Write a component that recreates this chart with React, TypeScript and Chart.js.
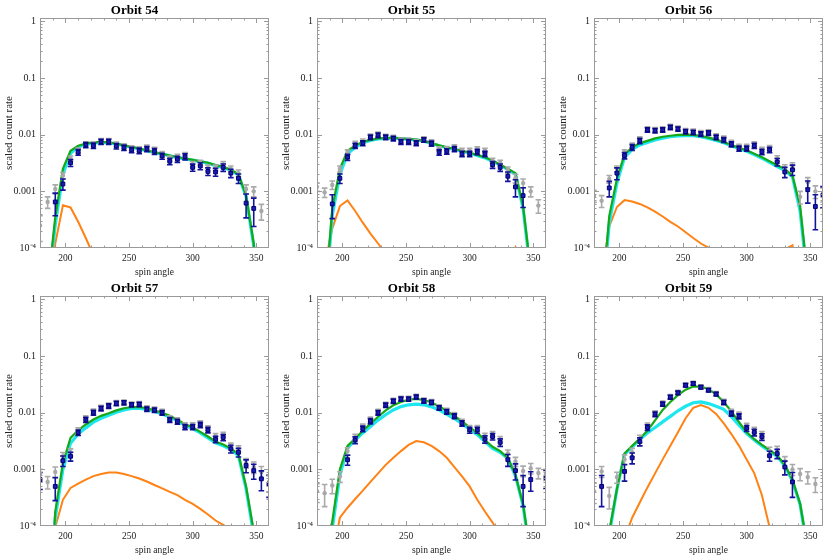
import React, { useEffect, useRef } from "react";
import { Chart, registerables } from "chart.js";

Chart.register(...registerables);

// ---------- shared axes ----------
const spinAngles = [180, 186, 192, 198, 204, 210, 216, 222, 228, 234, 240, 246, 252, 258, 264, 270, 276, 282, 288, 294, 300, 306, 312, 318, 324, 330, 336, 342, 348, 354, 360];
const xTickValues = [200, 250, 300, 350];
const xMinorTicks = [190, 210, 220, 230, 240, 260, 270, 280, 290, 310, 320, 330, 340];
const yTickValues = [1e-4, 1e-3, 1e-2, 0.1, 1];
const yTickLabels = ["10\u207B\u2074", "0.001", "0.01", "0.1", "1"];
const orbitTitles = ["Orbit 54", "Orbit 55", "Orbit 56", "Orbit 57", "Orbit 58", "Orbit 59"];

// ---------- Orbit 54 ----------
const blue54 = [null, null, 6.5e-4, 1.35e-3, 3.2e-3, 4.9e-3, 6.6e-3, 6.4e-3, 7.5e-3, 7.5e-3, 6.3e-3, 5.9e-3, 5.4e-3, 5.2e-3, 5.6e-3, 5.1e-3, 4.2e-3, 3.4e-3, 3.7e-3, 4.1e-3, 2.65e-3, 2.8e-3, 2.25e-3, 2.2e-3, 2.65e-3, 2.1e-3, 1.7e-3, 6.2e-4, 5.0e-4, null, null];
const blueErr54 = [null, null, 2.8e-4, 3e-4, 4.5e-4, 5.5e-4, 7e-4, 7e-4, 8e-4, 8e-4, 7e-4, 6.5e-4, 6e-4, 6e-4, 6e-4, 6e-4, 5e-4, 4.5e-4, 4.5e-4, 5e-4, 3.8e-4, 4e-4, 3.5e-4, 3.5e-4, 4e-4, 3.5e-4, 3.2e-4, 2.8e-4, 2.6e-4, null, null];
const gray54 = [2.5e-4, 6.5e-4, 1.1e-3, 1.9e-3, 3.8e-3, 5.3e-3, 6.9e-3, 6.9e-3, 7.9e-3, 7.9e-3, 6.8e-3, 6.3e-3, 5.8e-3, 5.6e-3, 6.0e-3, 5.5e-3, 4.6e-3, 3.8e-3, 4.1e-3, 4.4e-3, 3.0e-3, 3.2e-3, 2.6e-3, 2.6e-3, 3.0e-3, 2.5e-3, 2.1e-3, 1.1e-3, 1.0e-3, 4.5e-4, null];
const grayErr54 = [1.2e-4, 1.5e-4, 2e-4, 2.5e-4, 4e-4, 5e-4, 6e-4, 6e-4, 7e-4, 7e-4, 6e-4, 6e-4, 5.5e-4, 5.5e-4, 5.5e-4, 5e-4, 4.5e-4, 4e-4, 4e-4, 4.5e-4, 3.5e-4, 3.5e-4, 3e-4, 3e-4, 3.5e-4, 3e-4, 2.8e-4, 2e-4, 2e-4, 1.4e-4, null];
const green54 = [1e-7, 2e-5, 3.5e-4, 2.5e-3, 5.2e-3, 6.4e-3, 7.0e-3, 7.3e-3, 7.5e-3, 7.3e-3, 7.0e-3, 6.5e-3, 6.1e-3, 5.7e-3, 5.3e-3, 4.9e-3, 4.6e-3, 4.3e-3, 4.0e-3, 3.8e-3, 3.6e-3, 3.4e-3, 3.2e-3, 2.9e-3, 2.7e-3, 2.4e-3, 2.0e-3, 8.5e-4, 1.2e-4, 1e-6, 1e-7];
const cyan54 = [1e-7, 1.5e-5, 2.6e-4, 2.0e-3, 4.7e-3, 6.1e-3, 6.8e-3, 7.1e-3, 7.3e-3, 7.2e-3, 6.9e-3, 6.4e-3, 6.0e-3, 5.6e-3, 5.2e-3, 4.85e-3, 4.55e-3, 4.25e-3, 3.95e-3, 3.75e-3, 3.55e-3, 3.35e-3, 3.15e-3, 2.85e-3, 2.65e-3, 2.35e-3, 1.95e-3, 8e-4, 1.1e-4, 1e-6, 1e-7];
const orange54 = [1e-7, 1e-6, 1.2e-4, 5.7e-4, 5.2e-4, 2.9e-4, 1.5e-4, 7.4e-5, 3.5e-5, 2e-5, 1.2e-5, 8e-6, 6e-6, 5e-6, 4e-6, 3e-6, 3e-6, 3e-6, 3e-6, 3e-6, 3e-6, 3e-6, 4e-6, 5e-6, 6e-6, 8e-6, 1e-5, 2e-6, 1e-7, 1e-7, 1e-7];

// ---------- Orbit 55 ----------
const blue55 = [null, null, 6e-4, 1.7e-3, 4.0e-3, 6.4e-3, 7.1e-3, 9.0e-3, 9.8e-3, 9.0e-3, 8.6e-3, 7.5e-3, 7.5e-3, 7.1e-3, 8.1e-3, 7.0e-3, 4.9e-3, 5.1e-3, 5.6e-3, 4.6e-3, 4.6e-3, 5.0e-3, 4.6e-3, 2.95e-3, 2.65e-3, 1.85e-3, 1.2e-3, 8.4e-4, null, null, null];
const blueErr55 = [null, null, 2.7e-4, 3.2e-4, 5e-4, 6.5e-4, 7e-4, 8.5e-4, 9e-4, 8.5e-4, 8e-4, 7.5e-4, 7.5e-4, 7e-4, 7.5e-4, 7e-4, 5.5e-4, 5.5e-4, 6e-4, 5e-4, 5e-4, 5.5e-4, 5e-4, 4e-4, 4e-4, 3.5e-4, 4e-4, 3.2e-4, null, null, null];
const gray55 = [1.2e-3, 9.6e-4, 1.3e-3, 2.5e-3, 4.9e-3, 7.0e-3, 7.7e-3, 9.5e-3, 1.03e-2, 9.4e-3, 9.0e-3, 8.0e-3, 8.0e-3, 7.6e-3, 8.5e-3, 7.5e-3, 5.6e-3, 5.7e-3, 6.1e-3, 5.3e-3, 5.3e-3, 5.6e-3, 5.3e-3, 3.5e-3, 3.2e-3, 2.4e-3, 1.7e-3, 1.4e-3, 1.0e-3, 5.6e-4, null];
const grayErr55 = [2e-4, 1.8e-4, 2.2e-4, 3e-4, 5e-4, 6.5e-4, 7e-4, 8e-4, 8.5e-4, 8e-4, 7.5e-4, 7e-4, 7e-4, 6.5e-4, 7e-4, 6.5e-4, 5e-4, 5e-4, 5.5e-4, 4.5e-4, 4.5e-4, 5e-4, 4.5e-4, 3.5e-4, 3.5e-4, 3e-4, 3e-4, 2.5e-4, 2e-4, 1.5e-4, null];
const green55 = [1e-7, 1e-5, 5e-4, 2.5e-3, 5.2e-3, 6.4e-3, 7.5e-3, 8.1e-3, 8.6e-3, 8.7e-3, 8.8e-3, 8.6e-3, 8.4e-3, 8.2e-3, 7.8e-3, 7.1e-3, 6.5e-3, 6.0e-3, 5.6e-3, 5.2e-3, 4.8e-3, 4.4e-3, 4.0e-3, 3.5e-3, 2.95e-3, 2.5e-3, 2.1e-3, 5.5e-4, 4e-5, 1e-7, 1e-7];
const cyan55 = [1e-7, 8e-6, 3.8e-4, 2.0e-3, 4.6e-3, 6.0e-3, 7.2e-3, 7.9e-3, 8.4e-3, 8.6e-3, 8.7e-3, 8.5e-3, 8.3e-3, 8.1e-3, 7.7e-3, 7.0e-3, 6.4e-3, 5.9e-3, 5.5e-3, 5.1e-3, 4.7e-3, 4.3e-3, 3.9e-3, 3.4e-3, 2.9e-3, 2.45e-3, 2.0e-3, 5e-4, 3.5e-5, 1e-7, 1e-7];
const orange55 = [1e-7, 5e-5, 2.2e-4, 5.5e-4, 6.9e-4, 4.5e-4, 2.8e-4, 1.8e-4, 1.2e-4, 8e-5, 5.5e-5, 3.5e-5, 2.5e-5, 2e-5, 1.5e-5, 1.2e-5, 1e-5, 1e-5, 1e-5, 1e-5, 1.2e-5, 1.5e-5, 2e-5, 2.8e-5, 4e-5, 6e-5, 1.03e-4, 3e-5, 1e-6, 1e-7, 1e-7];

// ---------- Orbit 56 ----------
const blue56 = [null, null, 1.15e-3, 2.1e-3, 4.3e-3, 6.0e-3, 7.8e-3, 1.22e-2, 1.18e-2, 1.22e-2, 1.35e-2, 1.26e-2, 1.13e-2, 1.1e-2, 1.03e-2, 1.07e-2, 9.0e-3, 8.1e-3, 6.8e-3, 5.7e-3, 5.7e-3, 6.4e-3, 5.0e-3, 5.4e-3, 3.3e-3, 2.2e-3, 2.4e-3, null, 1.07e-3, 5.4e-4, 8.6e-4];
const blueErr56 = [null, null, 3.5e-4, 5e-4, 5.5e-4, 7e-4, 8.5e-4, 1.1e-3, 1.1e-3, 1.1e-3, 1.2e-3, 1.1e-3, 1e-3, 1e-3, 9.5e-4, 1e-3, 8.5e-4, 8e-4, 7e-4, 6e-4, 6e-4, 6.5e-4, 5.5e-4, 6e-4, 5e-4, 4.5e-4, 5e-4, null, 4.5e-4, 3.3e-4, 3.5e-4];
const gray56 = [8.4e-4, 6.8e-4, 1.65e-3, 2.5e-3, 4.9e-3, 6.5e-3, 8.4e-3, 1.28e-2, 1.24e-2, 1.28e-2, 1.42e-2, 1.32e-2, 1.19e-2, 1.16e-2, 1.09e-2, 1.13e-2, 9.6e-3, 8.7e-3, 7.3e-3, 6.2e-3, 6.2e-3, 6.9e-3, 5.5e-3, 5.9e-3, 3.8e-3, 2.6e-3, 2.8e-3, 8e-4, 1.45e-3, 1.0e-3, 9e-4];
const grayErr56 = [2e-4, 1.6e-4, 2.5e-4, 3e-4, 5e-4, 6.5e-4, 8e-4, 1e-3, 1e-3, 1e-3, 1.1e-3, 1e-3, 9.5e-4, 9.5e-4, 9e-4, 9.5e-4, 8e-4, 7.5e-4, 6.5e-4, 5.5e-4, 5.5e-4, 6e-4, 5e-4, 5.5e-4, 4.5e-4, 3.5e-4, 4e-4, 2e-4, 3e-4, 2.5e-4, 2.5e-4];
const green56 = [1e-7, 1e-5, 3.7e-4, 1.65e-3, 4.5e-3, 6.0e-3, 7.1e-3, 7.8e-3, 8.6e-3, 9.2e-3, 9.6e-3, 9.9e-3, 1.0e-2, 9.9e-3, 9.5e-3, 8.9e-3, 8.2e-3, 7.4e-3, 6.6e-3, 5.9e-3, 5.3e-3, 4.6e-3, 4.0e-3, 3.4e-3, 2.9e-3, 2.5e-3, 1.9e-3, 5.5e-4, 3e-5, 1e-7, 1e-7];
const cyan56 = [1e-7, 8e-6, 2.8e-4, 1.4e-3, 4.0e-3, 5.5e-3, 6.6e-3, 7.3e-3, 8.1e-3, 8.7e-3, 9.2e-3, 9.5e-3, 9.6e-3, 9.6e-3, 9.2e-3, 8.6e-3, 7.9e-3, 7.2e-3, 6.4e-3, 5.7e-3, 5.1e-3, 4.45e-3, 3.85e-3, 3.25e-3, 2.75e-3, 2.35e-3, 1.8e-3, 4.5e-4, 2.5e-5, 1e-7, 1e-7];
const orange56 = [1e-7, 3e-5, 2.4e-4, 5.3e-4, 7.0e-4, 6.6e-4, 6.0e-4, 5.2e-4, 4.4e-4, 3.6e-4, 2.9e-4, 2.4e-4, 1.9e-4, 1.5e-4, 1.2e-4, 1.02e-4, 8.5e-5, 7.5e-5, 6.5e-5, 6e-5, 6e-5, 6.5e-5, 7e-5, 7.5e-5, 8.5e-5, 9.5e-5, 1.12e-4, 1e-5, 1e-7, 1e-7, 1e-7];

// ---------- Orbit 57 ----------
const blue57 = [6.6e-4, null, 5.0e-4, 1.42e-3, 1.7e-3, 4.45e-3, 7.5e-3, 1.0e-2, 1.19e-2, 1.31e-2, 1.46e-2, 1.5e-2, 1.38e-2, 1.4e-2, 1.16e-2, 1.11e-2, 1.0e-2, 7.5e-3, 6.95e-3, 5.6e-3, 5.6e-3, 6.1e-3, 4.95e-3, 3.4e-3, 3.65e-3, 2.3e-3, 2.0e-3, 1.17e-3, 9.5e-4, 6.8e-4, 5.5e-4];
const blueErr57 = [2.2e-4, null, 2.2e-4, 3e-4, 3e-4, 5e-4, 8e-4, 1e-3, 1.1e-3, 1.2e-3, 1.3e-3, 1.3e-3, 1.2e-3, 1.2e-3, 1.05e-3, 1e-3, 9.5e-4, 7.5e-4, 7e-4, 6e-4, 6e-4, 6.5e-4, 5.5e-4, 4.5e-4, 4.5e-4, 3.5e-4, 3.5e-4, 3e-4, 2.8e-4, 2.6e-4, 2.3e-4];
const gray57 = [8e-4, 6.0e-4, 9.0e-4, 1.7e-3, 2.0e-3, 4.9e-3, 8.1e-3, 1.06e-2, 1.25e-2, 1.37e-2, 1.52e-2, 1.56e-2, 1.44e-2, 1.46e-2, 1.22e-2, 1.17e-2, 1.06e-2, 8.1e-3, 7.5e-3, 6.1e-3, 6.1e-3, 6.6e-3, 5.4e-3, 3.9e-3, 4.1e-3, 2.6e-3, 2.3e-3, 1.3e-3, 1.1e-3, 9e-4, 6e-4];
const grayErr57 = [2e-4, 1.5e-4, 2e-4, 2.8e-4, 3e-4, 5e-4, 7.5e-4, 9.5e-4, 1.05e-3, 1.1e-3, 1.2e-3, 1.2e-3, 1.1e-3, 1.1e-3, 1e-3, 9.5e-4, 9e-4, 7e-4, 6.5e-4, 5.5e-4, 5.5e-4, 6e-4, 5e-4, 4e-4, 4e-4, 3e-4, 3e-4, 2.5e-4, 2.5e-4, 2.2e-4, 2e-4];
const green57 = [1e-7, 1e-6, 1.8e-4, 1.3e-3, 3.6e-3, 4.9e-3, 6.2e-3, 7.6e-3, 8.8e-3, 9.8e-3, 1.1e-2, 1.2e-2, 1.26e-2, 1.26e-2, 1.2e-2, 1.1e-2, 1.0e-2, 8.8e-3, 7.5e-3, 6.3e-3, 5.5e-3, 4.6e-3, 3.8e-3, 3.1e-3, 2.75e-3, 2.35e-3, 1.85e-3, 5e-4, 8e-5, 1e-7, 1e-7];
const cyan57 = [1e-7, 1e-6, 1.4e-4, 1.0e-3, 2.9e-3, 4.2e-3, 5.4e-3, 6.8e-3, 8.0e-3, 9.0e-3, 1.02e-2, 1.12e-2, 1.19e-2, 1.2e-2, 1.14e-2, 1.05e-2, 9.5e-3, 8.4e-3, 7.2e-3, 6.0e-3, 5.25e-3, 4.4e-3, 3.6e-3, 2.95e-3, 2.6e-3, 2.25e-3, 1.75e-3, 4.5e-4, 7e-5, 1e-7, 1e-7];
const orange57 = [1e-7, 1e-6, 9.5e-5, 2.9e-4, 4.7e-4, 5.6e-4, 6.6e-4, 7.6e-4, 8.3e-4, 8.8e-4, 8.8e-4, 8.3e-4, 7.6e-4, 6.9e-4, 6.1e-4, 5.3e-4, 4.6e-4, 4.0e-4, 3.5e-4, 2.9e-4, 2.45e-4, 2.0e-4, 1.6e-4, 1.25e-4, 1.05e-4, 8.5e-5, 6e-5, 1e-5, 1e-7, 1e-7, 1e-7];

// ---------- Orbit 58 ----------
const blue58 = [null, null, null, null, 1.48e-3, 3.3e-3, 5.2e-3, 7.1e-3, 1.0e-2, 1.36e-2, 1.6e-2, 1.74e-2, 1.74e-2, 1.9e-2, 1.62e-2, 1.52e-2, 1.22e-2, 1.04e-2, 8.7e-3, 6.5e-3, 4.95e-3, 4.95e-3, 3.4e-3, 3.8e-3, 3.0e-3, 1.48e-3, 9.5e-4, 5.0e-4, 6.6e-4, null, 7.1e-4];
const blueErr58 = [null, null, null, null, 3e-4, 4.5e-4, 6e-4, 7.5e-4, 9.5e-4, 1.2e-3, 1.4e-3, 1.5e-3, 1.5e-3, 1.6e-3, 1.4e-3, 1.35e-3, 1.1e-3, 1e-3, 8.5e-4, 7e-4, 6e-4, 6e-4, 5e-4, 5e-4, 4.5e-4, 3.5e-4, 3e-4, 2.8e-4, 2.5e-4, null, 2.5e-4];
const gray58 = [4.1e-4, 3.8e-4, 5.2e-4, 7.5e-4, 2.1e-3, 3.7e-3, 5.7e-3, 7.7e-3, 1.06e-2, 1.42e-2, 1.66e-2, 1.8e-2, 1.8e-2, 1.96e-2, 1.68e-2, 1.58e-2, 1.28e-2, 1.1e-2, 9.3e-3, 7.0e-3, 5.4e-3, 5.4e-3, 3.9e-3, 4.2e-3, 3.4e-3, 1.9e-3, 1.38e-3, 9.4e-4, 1.05e-3, 8.6e-4, 8.2e-4];
const grayErr58 = [1.5e-4, 1.6e-4, 1.5e-4, 1.6e-4, 3e-4, 4.5e-4, 6e-4, 7e-4, 9e-4, 1.1e-3, 1.3e-3, 1.4e-3, 1.4e-3, 1.5e-3, 1.3e-3, 1.3e-3, 1.05e-3, 9.5e-4, 8e-4, 6.5e-4, 5.5e-4, 5.5e-4, 4.5e-4, 4.5e-4, 4e-4, 3e-4, 2.5e-4, 2e-4, 2.2e-4, 1.8e-4, 1.8e-4];
const green58 = [1e-7, 1e-6, 1.2e-4, 1.0e-3, 2.6e-3, 3.5e-3, 4.8e-3, 6.4e-3, 8.5e-3, 1.1e-2, 1.35e-2, 1.55e-2, 1.7e-2, 1.75e-2, 1.68e-2, 1.52e-2, 1.3e-2, 1.08e-2, 8.8e-3, 7.0e-3, 5.5e-3, 4.4e-3, 3.3e-3, 2.5e-3, 2.1e-3, 1.6e-3, 8e-4, 2.4e-4, 3e-5, 1e-7, 1e-7];
const cyan58 = [1e-7, 1e-6, 9e-5, 8e-4, 2.4e-3, 3.3e-3, 4.4e-3, 5.7e-3, 7.4e-3, 9.2e-3, 1.12e-2, 1.28e-2, 1.38e-2, 1.42e-2, 1.38e-2, 1.27e-2, 1.12e-2, 9.4e-3, 7.9e-3, 6.4e-3, 5.1e-3, 4.1e-3, 3.1e-3, 2.35e-3, 2.0e-3, 1.55e-3, 7.7e-4, 2.3e-4, 2.5e-5, 1e-7, 1e-7];
const orange58 = [1e-7, 1e-7, 3e-5, 1.4e-4, 2.1e-4, 3.0e-4, 4.2e-4, 6.0e-4, 8.5e-4, 1.2e-3, 1.6e-3, 2.1e-3, 2.7e-3, 3.15e-3, 3.0e-3, 2.6e-3, 2.1e-3, 1.6e-3, 1.1e-3, 7.5e-4, 5.0e-4, 2.9e-4, 1.8e-4, 1.15e-4, 7e-5, 4e-5, 2e-5, 1e-5, 1e-7, 1e-7, 1e-7];

// ---------- Orbit 59 ----------
const blue59 = [null, 5e-4, null, null, 9.2e-4, 1.6e-3, 3.1e-3, 5.5e-3, 9.4e-3, 1.42e-2, 1.88e-2, 2.24e-2, 3.05e-2, 3.27e-2, 2.82e-2, 2.5e-2, 2.13e-2, 1.52e-2, 9.7e-3, 8.7e-3, 5.3e-3, 4.5e-3, 3.75e-3, 1.74e-3, 1.9e-3, 1.1e-3, 6.0e-4, null, null, null, null];
const blueErr59 = [null, 2.8e-4, null, null, 3e-4, 3.5e-4, 5e-4, 6.5e-4, 9e-4, 1.2e-3, 1.5e-3, 1.7e-3, 2.1e-3, 2.2e-3, 2e-3, 1.8e-3, 1.6e-3, 1.3e-3, 1e-3, 9e-4, 6.5e-4, 6e-4, 5e-4, 3.5e-4, 3.5e-4, 3e-4, 2.8e-4, null, null, null, null];
const gray59 = [4.1e-4, 9.2e-4, 3.4e-4, 7.3e-4, 1.5e-3, 2.0e-3, 3.5e-3, 6.0e-3, 1.0e-2, 1.5e-2, 1.95e-2, 2.32e-2, 3.15e-2, 3.37e-2, 2.92e-2, 2.6e-2, 2.22e-2, 1.6e-2, 1.05e-2, 9.4e-3, 5.9e-3, 5.0e-3, 4.2e-3, 2.1e-3, 2.2e-3, 1.4e-3, 1.0e-3, 8.3e-4, 7.3e-4, 5.5e-4, null];
const grayErr59 = [1.6e-4, 2e-4, 1.4e-4, 1.6e-4, 3e-4, 3.5e-4, 5e-4, 6e-4, 8.5e-4, 1.1e-3, 1.4e-3, 1.6e-3, 2e-3, 2.1e-3, 1.9e-3, 1.7e-3, 1.5e-3, 1.2e-3, 9.5e-4, 8.5e-4, 6e-4, 5.5e-4, 4.5e-4, 3.5e-4, 3.5e-4, 2.8e-4, 2.2e-4, 2e-4, 1.8e-4, 1.6e-4, null];
const green59 = [1e-7, 1e-7, 8e-5, 4.5e-4, 1.9e-3, 2.6e-3, 3.5e-3, 4.8e-3, 7.3e-3, 1.12e-2, 1.55e-2, 2.05e-2, 2.55e-2, 2.9e-2, 2.9e-2, 2.6e-2, 2.1e-2, 1.55e-2, 1.05e-2, 6.8e-3, 4.5e-3, 3.4e-3, 2.7e-3, 2.2e-3, 1.75e-3, 1.2e-3, 6.5e-4, 2.5e-4, 4e-5, 1e-7, 1e-7];
const cyan59 = [1e-7, 1e-7, 7e-5, 4.4e-4, 1.85e-3, 2.5e-3, 3.35e-3, 4.4e-3, 5.5e-3, 6.9e-3, 8.6e-3, 1.08e-2, 1.3e-2, 1.5e-2, 1.55e-2, 1.45e-2, 1.3e-2, 1.15e-2, 8.5e-3, 6.0e-3, 4.3e-3, 3.3e-3, 2.6e-3, 2.1e-3, 1.7e-3, 1.15e-3, 6.3e-4, 2.4e-4, 3.5e-5, 1e-7, 1e-7];
const orange59 = [1e-7, 1e-7, 1e-7, 1e-6, 6e-5, 1.4e-4, 2.6e-4, 4.8e-4, 8.5e-4, 1.5e-3, 2.6e-3, 4.5e-3, 8e-3, 1.22e-2, 1.36e-2, 1.22e-2, 9.5e-3, 6.5e-3, 4.2e-3, 2.6e-3, 1.5e-3, 8.5e-4, 3.5e-4, 9.5e-5, 2e-5, 1e-6, 1e-7, 1e-7, 1e-7, 1e-7, 1e-7];

// ---------- panel table built from the arrays ----------
const panelSeries = [
  [blue54, blueErr54, gray54, grayErr54, green54, cyan54, orange54],
  [blue55, blueErr55, gray55, grayErr55, green55, cyan55, orange55],
  [blue56, blueErr56, gray56, grayErr56, green56, cyan56, orange56],
  [blue57, blueErr57, gray57, grayErr57, green57, cyan57, orange57],
  [blue58, blueErr58, gray58, grayErr58, green58, cyan58, orange58],
  [blue59, blueErr59, gray59, grayErr59, green59, cyan59, orange59],
];

const PANEL_W = 277;
const PANEL_H = 278;
const Y_AXIS_W = 40;
const X_AXIS_H = 30;
const FRAME = "#9a9a9a";
const SERIF = "'Liberation Serif', 'Times New Roman', serif";

const errorBarPlugin = {
  id: "errorBars",
  beforeDatasetDraw(chart: any, args: any) {
    const ds = chart.data.datasets[args.index];
    if (!ds.errors) return;
    const xs = chart.scales.x;
    const ys = chart.scales.y;
    const a = chart.chartArea;
    const ctx = chart.ctx;
    ctx.save();
    ctx.beginPath();
    ctx.rect(a.left, a.top, a.right - a.left, a.bottom - a.top);
    ctx.clip();
    ctx.strokeStyle = ds.errorColor;
    ctx.lineWidth = 1.6;
    ds.data.forEach((pt: any, i: number) => {
      const e = ds.errors[i];
      if (pt.y == null || e == null) return;
      const px = xs.getPixelForValue(pt.x);
      const yHi = ys.getPixelForValue(pt.y + e);
      const lo = pt.y - e;
      const yLo = lo > 0 ? ys.getPixelForValue(lo) : a.bottom + 20;
      ctx.beginPath();
      ctx.moveTo(px, yHi);
      ctx.lineTo(px, yLo);
      ctx.moveTo(px - 2.8, yHi);
      ctx.lineTo(px + 2.8, yHi);
      ctx.moveTo(px - 2.8, yLo);
      ctx.lineTo(px + 2.8, yLo);
      ctx.stroke();
    });
    ctx.restore();
  },
};

const framePlugin = {
  id: "frameTicks",
  afterDraw(chart: any) {
    const xs = chart.scales.x;
    const ys = chart.scales.y;
    const a = chart.chartArea;
    const ctx = chart.ctx;
    ctx.save();
    ctx.strokeStyle = FRAME;
    ctx.lineWidth = 1;
    ctx.strokeRect(Math.round(a.left) + 0.5, Math.round(a.top) + 0.5, Math.round(a.right - a.left) - 1, Math.round(a.bottom - a.top) - 1);
    ctx.beginPath();
    const xt = (v: number, len: number) => {
      const p = Math.round(xs.getPixelForValue(v)) + 0.5;
      ctx.moveTo(p, a.bottom);
      ctx.lineTo(p, a.bottom - len);
      ctx.moveTo(p, a.top);
      ctx.lineTo(p, a.top + len);
    };
    xTickValues.forEach((v) => xt(v, 5));
    xMinorTicks.forEach((v) => xt(v, 2.5));
    const yt = (v: number, len: number) => {
      const p = Math.round(ys.getPixelForValue(v)) + 0.5;
      if (p < a.top || p > a.bottom) return;
      ctx.moveTo(a.left, p);
      ctx.lineTo(a.left + len, p);
      ctx.moveTo(a.right, p);
      ctx.lineTo(a.right - len, p);
    };
    yTickValues.forEach((v) => {
      yt(v, 5);
      for (let m = 2; m <= 9; m++) yt(v * m, 2.5);
    });
    ctx.stroke();
    ctx.restore();
  },
};

function buildConfig(idx: number): any {
  const [blue, blueErr, gray, grayErr, green, cyan, orange] = panelSeries[idx] as any[];
  const pts = (arr: any[]) => spinAngles.map((x, i) => ({ x, y: arr[i] }));
  return {
    type: "line",
    data: {
      datasets: [
        {
          label: "data",
          data: pts(blue),
          errors: blueErr,
          errorColor: "#13139c",
          showLine: false,
          pointStyle: "rect",
          pointRadius: 2.7,
          pointBackgroundColor: "#1a1ab8",
          pointBorderColor: "#000070",
          pointBorderWidth: 1,
          clip: 0,
        },
        {
          label: "raw",
          data: pts(gray),
          errors: grayErr,
          errorColor: "#aaaaaa",
          showLine: false,
          pointStyle: "circle",
          pointRadius: 2.2,
          pointBackgroundColor: "#a8a8a8",
          pointBorderColor: "#a8a8a8",
          pointBorderWidth: 0,
          clip: 0,
        },
        { label: "total", data: pts(green), borderColor: "#16a816", borderWidth: 2.2, pointRadius: 0, tension: 0, clip: 0 },
        { label: "primary", data: pts(cyan), borderColor: "#1ee6ee", borderWidth: 3.2, pointRadius: 0, tension: 0, clip: 0 },
        { label: "secondary", data: pts(orange), borderColor: "#ff8214", borderWidth: 2, pointRadius: 0, tension: 0, clip: 0 },
      ],
    },
    options: {
      animation: false,
      responsive: false,
      maintainAspectRatio: false,
      events: [],
      layout: { padding: { left: 0, right: PANEL_W - Y_AXIS_W - 229, top: 0, bottom: 0 } },
      plugins: {
        legend: { display: false },
        tooltip: { enabled: false },
        title: {
          display: true,
          text: orbitTitles[idx],
          color: "#000",
          font: { family: SERIF, size: 13, weight: "bold", lineHeight: 1 },
          padding: { top: 4, bottom: 1 },
        },
      },
      scales: {
        x: {
          type: "linear",
          min: 180,
          max: 360,
          afterBuildTicks: (s: any) => {
            s.ticks = xTickValues.map((v) => ({ value: v }));
          },
          afterFit: (s: any) => {
            s.height = X_AXIS_H;
          },
          grid: { display: false, drawTicks: false },
          border: { display: false },
          ticks: { color: "#222", font: { family: SERIF, size: 9.5 }, padding: 5, autoSkip: false, maxRotation: 0 },
          title: { display: true, text: "spin angle", color: "#222", font: { family: SERIF, size: 9.5 }, padding: { top: 0, bottom: 0 } },
        },
        y: {
          type: "logarithmic",
          min: 1e-4,
          max: 1.15,
          afterBuildTicks: (s: any) => {
            s.ticks = yTickValues.map((v) => ({ value: v }));
          },
          afterFit: (s: any) => {
            s.width = Y_AXIS_W;
          },
          grid: { display: false, drawTicks: false },
          border: { display: false },
          ticks: {
            color: "#222",
            font: { family: SERIF, size: 10 },
            padding: 4,
            autoSkip: false,
            callback: (v: any) => {
              const k = yTickValues.findIndex((t) => Math.abs(t - v) / t < 1e-6);
              return k >= 0 ? yTickLabels[k] : "";
            },
          },
          title: { display: true, text: "scaled count rate", color: "#222", font: { family: SERIF, size: 11 }, padding: { top: 3, bottom: 0 } },
        },
      },
    },
    plugins: [errorBarPlugin, framePlugin],
  };
}

function Panel({ idx, left, top }: { idx: number; left: number; top: number }) {
  const ref = useRef<HTMLCanvasElement>(null);
  useEffect(() => {
    const chart = new Chart(ref.current as HTMLCanvasElement, buildConfig(idx));
    return () => chart.destroy();
  }, [idx]);
  return (
    <canvas
      ref={ref}
      width={PANEL_W}
      height={PANEL_H}
      style={{ position: "absolute", left, top, width: PANEL_W, height: PANEL_H }}
    />
  );
}

const panelLefts = [0, 277, 554];
const panelTops = [0, 278];

export default function App() {
  return (
    <div style={{ position: "absolute", left: 0, top: 0, width: 830, height: 557, overflow: "hidden", background: "#fff" }}>
      {orbitTitles.map((_, i) => (
        <Panel key={i} idx={i} left={panelLefts[i % 3]} top={panelTops[Math.floor(i / 3)]} />
      ))}
    </div>
  );
}
